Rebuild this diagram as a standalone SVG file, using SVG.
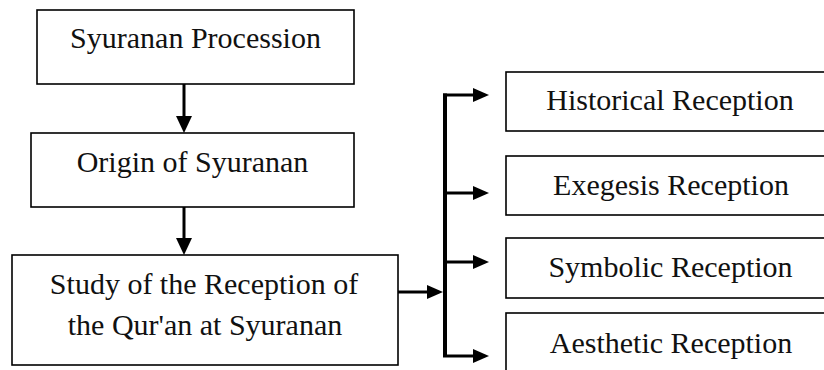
<svg xmlns="http://www.w3.org/2000/svg" width="824" height="370" viewBox="0 0 824 370">
<style>
.box{fill:#fff;stroke:#000;stroke-width:1.6}
.t{font-family:"Liberation Serif","Times New Roman",serif;font-size:30px;fill:#111;text-anchor:middle}
.ln{fill:none;stroke:#000;stroke-width:3}
.bus{fill:none;stroke:#000;stroke-width:4}
.hd{fill:#000}
</style>
<rect width="824" height="370" fill="#fff"/>
<g id="n1"><rect class="box" x="37" y="10" width="317" height="74"/><text class="t" x="195.5" y="48">Syuranan Procession</text></g>
<g id="n2"><rect class="box" x="31" y="133" width="323" height="74"/><text class="t" x="192.5" y="172">Origin of Syuranan</text></g>
<g id="n3"><rect class="box" x="12" y="255" width="386" height="110"/><text class="t" x="204" y="294">Study of the Reception of</text><text class="t" x="205" y="335">the Qur'an at Syuranan</text></g>
<g id="n4"><rect class="box" x="506" y="72" width="330" height="59"/><text class="t" x="670" y="110">Historical Reception</text></g>
<g id="n5"><rect class="box" x="506" y="156" width="330" height="59"/><text class="t" x="671" y="195">Exegesis Reception</text></g>
<g id="n6"><rect class="box" x="506" y="238" width="330" height="60"/><text class="t" x="670.5" y="277">Symbolic Reception</text></g>
<g id="n7"><rect class="box" x="506" y="313" width="330" height="70"/><text class="t" x="671" y="353">Aesthetic Reception</text></g>
<g id="connectors">
<path class="ln" d="M184 84V117"/><polygon class="hd" points="176,116 192,116 184,133"/>
<path class="ln" d="M184 207V239"/><polygon class="hd" points="176,238 192,238 184,255"/>
<path class="ln" d="M398 292H428"/><polygon class="hd" points="427,285 443,292 427,299"/>
<path class="bus" d="M445 357V93.5"/>
<path class="ln" d="M443 95H474"/><polygon class="hd" points="473,88 489,95 473,102"/>
<path class="ln" d="M443 193H474"/><polygon class="hd" points="473,186 489,193 473,200"/>
<path class="ln" d="M443 262H474"/><polygon class="hd" points="473,255 489,262 473,269"/>
<path class="ln" d="M443 356H474"/><polygon class="hd" points="473,349 489,356 473,363"/>
</g>
</svg>
